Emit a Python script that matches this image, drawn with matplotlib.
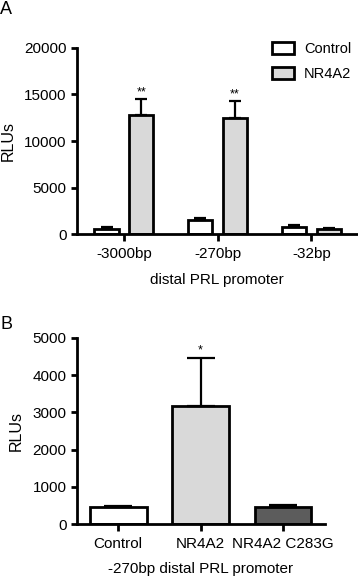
import matplotlib.pyplot as plt
import numpy as np

plt.rcParams['font.family'] = ['Liberation Sans', 'DejaVu Sans']
plt.rcParams['font.size'] = 11

# panel A
promoters = ["-3000bp", "-270bp", "-32bp"]
control_a = [600, 1500, 790]
control_a_err = [150, 280, 180]
nr4a2_a = [12800, 12500, 540]
nr4a2_a_err = [1700, 1750, 80]
stars_a = ["**", "**", ""]

# panel B
constructs = ["Control", "NR4A2", "NR4A2 C283G"]
values_b = [455, 3180, 455]
errors_b = [35, 1270, 60]
colors_b = ["white", "#d9d9d9", "#5c5c5c"]
stars_b = ["", "*", ""]

fig = plt.figure(figsize=(3.58, 5.77), dpi=100)
axA = fig.add_axes([0.215, 0.594, 0.783, 0.323])
axB = fig.add_axes([0.215, 0.0913, 0.693, 0.3234])

lw = 2.0
x = np.arange(len(promoters))
w = 0.26
ek = dict(elinewidth=1.6, capsize=4, capthick=1.6, ecolor="black")
axA.bar(x - 0.185, control_a, w, yerr=[np.zeros(3), control_a_err], color="white",
        edgecolor="black", linewidth=lw, label="Control", error_kw=ek)
axA.bar(x + 0.185, nr4a2_a, w, yerr=[np.zeros(3), nr4a2_a_err], color="#d9d9d9",
        edgecolor="black", linewidth=lw, label="NR4A2", error_kw=ek)
for i, s in enumerate(stars_a):
    if s:
        axA.text(x[i] + 0.185, nr4a2_a[i] + nr4a2_a_err[i] + 100, s, ha="center", va="bottom", fontsize=9)
axA.set_xlim(-0.5, 2.49)
axA.set_ylim(0, 20000)
axA.set_yticks([0, 5000, 10000, 15000, 20000])
axA.set_xticks(x)
axA.set_xticklabels(promoters)
axA.set_ylabel("RLUs", fontsize=11.5, labelpad=6)
axA.set_xlabel("distal PRL promoter", fontsize=11, labelpad=9)
axA.legend(frameon=False, loc="upper left", bbox_to_anchor=(0.76, 0.928),
           bbox_transform=fig.transFigure, borderpad=0, borderaxespad=0,
           handlelength=1.5, handleheight=0.95, handletextpad=0.7, fontsize=10.5,
           labelspacing=0.75)

xb = np.arange(len(constructs))
axB.bar(xb, values_b, 0.69, yerr=[np.zeros(3), errors_b], color=colors_b,
        edgecolor="black", linewidth=lw,
        error_kw=dict(elinewidth=1.6, capsize=10, capthick=1.6, ecolor="black"))
for i, s in enumerate(stars_b):
    if s:
        axB.text(xb[i], values_b[i] + errors_b[i] + 40, s, ha="center", va="bottom", fontsize=9)
axB.set_xlim(-0.5, 2.51)
axB.set_ylim(0, 5000)
axB.set_yticks(range(0, 5001, 1000))
axB.set_xticks(xb)
axB.set_xticklabels(constructs)
axB.set_ylabel("RLUs", fontsize=11.5, labelpad=6)
axB.set_xlabel("-270bp distal PRL promoter", fontsize=11, labelpad=8)

for ax in (axA, axB):
    for sp in ("top", "right"):
        ax.spines[sp].set_visible(False)
    for sp in ("left", "bottom"):
        ax.spines[sp].set_linewidth(lw)
    ax.tick_params(width=lw, length=4, labelsize=11)
    ax.tick_params(axis="x", length=5, pad=4)

fig.text(0.0, 0.998, "A", fontsize=13, va="top", ha="left")
fig.text(0.0, 0.452, "B", fontsize=13, va="top", ha="left")

fig.savefig("out.png", dpi=100)
